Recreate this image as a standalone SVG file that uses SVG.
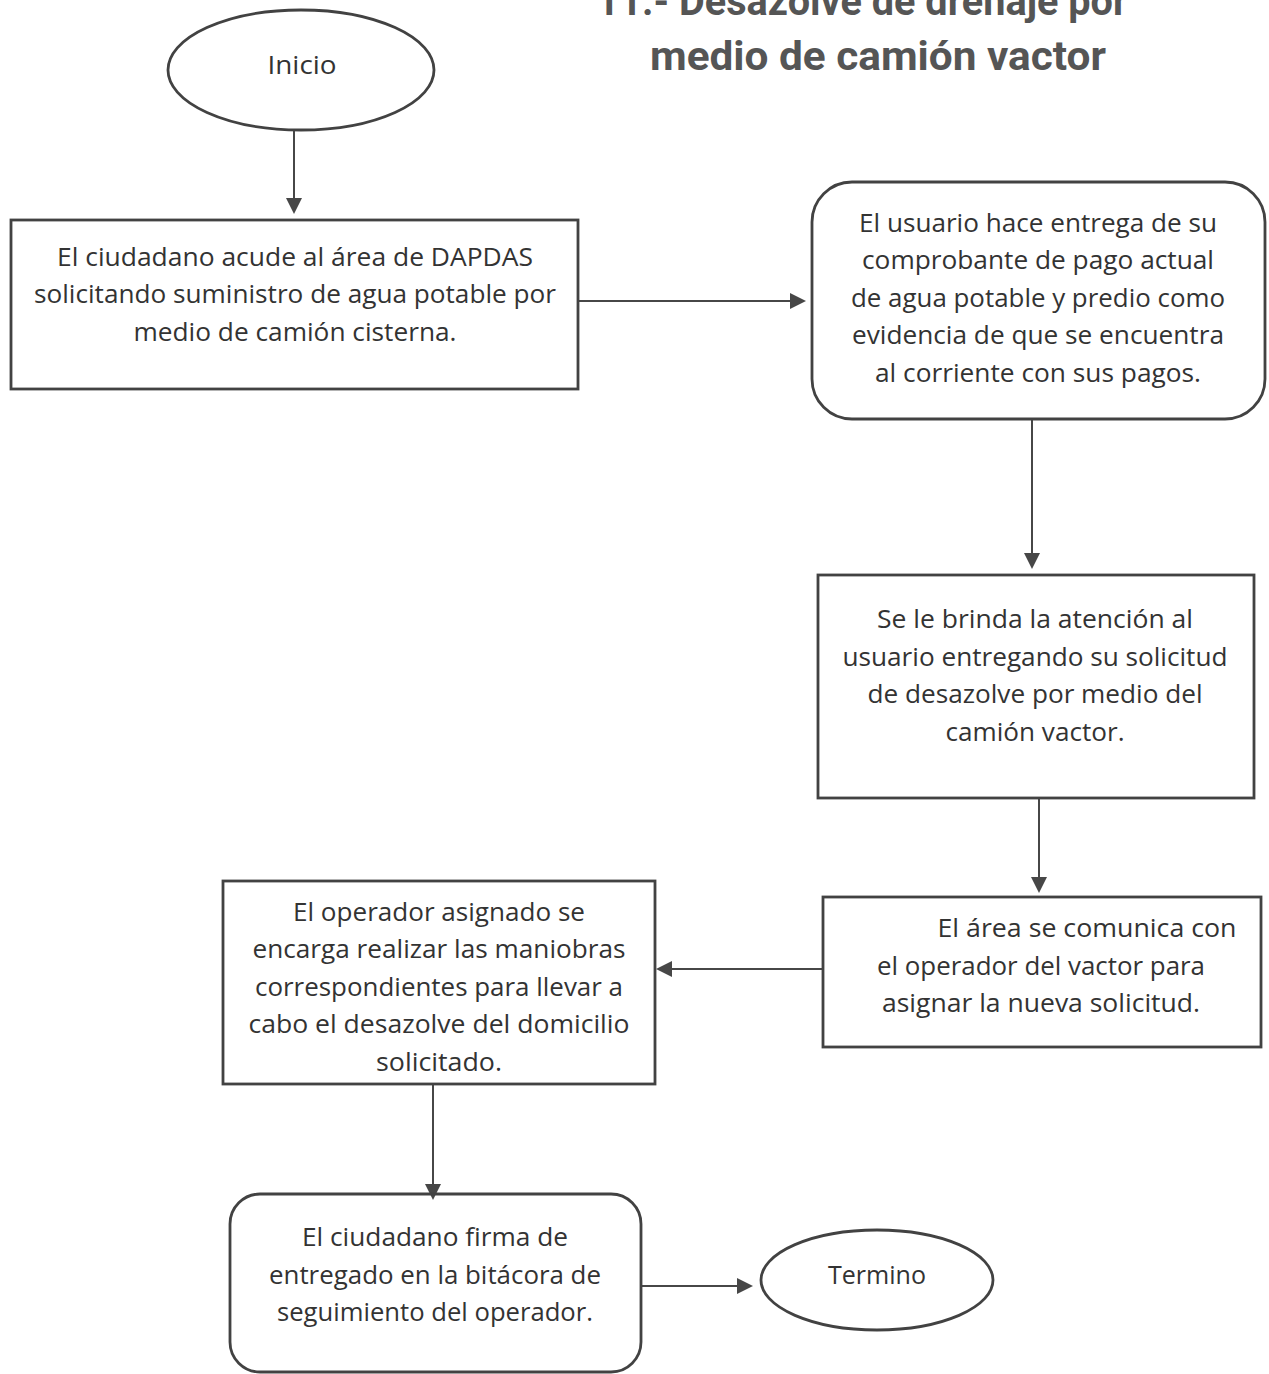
<svg xmlns="http://www.w3.org/2000/svg" width="1269" height="1374" viewBox="0 0 1269 1374">
  <style>
    .shape { fill: none; stroke: #424242; stroke-width: 2.8; }
    .txt { font-family: "Open Sans", Lato, sans-serif; font-size: 25px; fill: #333333; text-anchor: middle; }
    .title { font-family: Roboto, "Liberation Sans", sans-serif; font-weight: bold; font-size: 40px; fill: #555; text-anchor: middle; }
    .link { fill: none; stroke: #474747; stroke-width: 2; }
    .head { fill: #474747; }
  </style>
  <rect width="1269" height="1374" fill="#ffffff"/>

  <g id="title">
    <text class="title" x="862" y="15" textLength="531" lengthAdjust="spacingAndGlyphs">11.- Desazolve de drenaje por</text>
    <text class="title" x="878" y="70" textLength="456" lengthAdjust="spacingAndGlyphs">medio de camión vactor</text>
  </g>

  <!-- connectors: straight lines with filled triangular heads -->
  <g id="connectors">
    <line class="link" x1="294" y1="131" x2="294" y2="200"/>
    <path class="head" d="M286,198 L302,198 L294,214 Z"/>
    <line class="link" x1="578" y1="301" x2="792" y2="301"/>
    <path class="head" d="M790,293 L806,301 L790,309 Z"/>
    <line class="link" x1="1032" y1="420" x2="1032" y2="555"/>
    <path class="head" d="M1024,553 L1040,553 L1032,569 Z"/>
    <line class="link" x1="1039" y1="799" x2="1039" y2="879"/>
    <path class="head" d="M1031,877 L1047,877 L1039,893 Z"/>
    <line class="link" x1="823" y1="969" x2="670" y2="969"/>
    <path class="head" d="M672,961 L656,969 L672,977 Z"/>
    <line class="link" x1="433" y1="1085" x2="433" y2="1186"/>
    <path class="head" d="M425,1184 L441,1184 L433,1200 Z"/>
    <line class="link" x1="641" y1="1286" x2="739" y2="1286"/>
    <path class="head" d="M737,1278 L753,1286 L737,1294 Z"/>
  </g>

  <g id="inicio">
    <ellipse class="shape" cx="301" cy="70" rx="133" ry="60"/>
    <text class="txt" x="302" y="74" textLength="69" lengthAdjust="spacingAndGlyphs">Inicio</text>
  </g>

  <g id="solicitud">
    <rect class="shape" x="11" y="220" width="567" height="169"/>
    <text class="txt" x="295" y="266" textLength="476" lengthAdjust="spacingAndGlyphs">El ciudadano acude al área de DAPDAS</text>
    <text class="txt" x="295" y="303" textLength="522" lengthAdjust="spacingAndGlyphs">solicitando suministro de agua potable por</text>
    <text class="txt" x="295" y="341" textLength="323" lengthAdjust="spacingAndGlyphs">medio de camión cisterna.</text>
  </g>

  <g id="comprobante">
    <rect class="shape" x="812" y="182" width="453" height="237" rx="40" ry="40"/>
    <text class="txt" x="1038" y="232" textLength="358" lengthAdjust="spacingAndGlyphs">El usuario hace entrega de su</text>
    <text class="txt" x="1038" y="269" textLength="352" lengthAdjust="spacingAndGlyphs">comprobante de pago actual</text>
    <text class="txt" x="1038" y="307" textLength="374" lengthAdjust="spacingAndGlyphs">de agua potable y predio como</text>
    <text class="txt" x="1038" y="344" textLength="372" lengthAdjust="spacingAndGlyphs">evidencia de que se encuentra</text>
    <text class="txt" x="1038" y="382" textLength="326" lengthAdjust="spacingAndGlyphs">al corriente con sus pagos.</text>
  </g>

  <g id="atencion">
    <rect class="shape" x="818" y="575" width="436" height="223"/>
    <text class="txt" x="1035" y="628" textLength="316" lengthAdjust="spacingAndGlyphs">Se le brinda la atención al</text>
    <text class="txt" x="1035" y="666" textLength="385" lengthAdjust="spacingAndGlyphs">usuario entregando su solicitud</text>
    <text class="txt" x="1035" y="703" textLength="335" lengthAdjust="spacingAndGlyphs">de desazolve por medio del</text>
    <text class="txt" x="1035" y="741" textLength="179" lengthAdjust="spacingAndGlyphs">camión vactor.</text>
  </g>

  <g id="comunicacion">
    <rect class="shape" x="823" y="897" width="438" height="150"/>
    <text class="txt" x="1087" y="937" textLength="299" lengthAdjust="spacingAndGlyphs">El área se comunica con</text>
    <text class="txt" x="1041" y="975" textLength="328" lengthAdjust="spacingAndGlyphs">el operador del vactor para</text>
    <text class="txt" x="1041" y="1012" textLength="318" lengthAdjust="spacingAndGlyphs">asignar la nueva solicitud.</text>
  </g>

  <g id="maniobras">
    <rect class="shape" x="223" y="881" width="432" height="203"/>
    <text class="txt" x="439" y="921" textLength="292" lengthAdjust="spacingAndGlyphs">El operador asignado se</text>
    <text class="txt" x="439" y="958" textLength="373" lengthAdjust="spacingAndGlyphs">encarga realizar las maniobras</text>
    <text class="txt" x="439" y="996" textLength="368" lengthAdjust="spacingAndGlyphs">correspondientes para llevar a</text>
    <text class="txt" x="439" y="1033" textLength="381" lengthAdjust="spacingAndGlyphs">cabo el desazolve del domicilio</text>
    <text class="txt" x="439" y="1071" textLength="126" lengthAdjust="spacingAndGlyphs">solicitado.</text>
  </g>

  <g id="firma">
    <rect class="shape" x="230" y="1194" width="411" height="178" rx="30" ry="30"/>
    <text class="txt" x="435" y="1246" textLength="266" lengthAdjust="spacingAndGlyphs">El ciudadano firma de</text>
    <text class="txt" x="435" y="1284" textLength="332" lengthAdjust="spacingAndGlyphs">entregado en la bitácora de</text>
    <text class="txt" x="435" y="1321" textLength="316" lengthAdjust="spacingAndGlyphs">seguimiento del operador.</text>
  </g>

  <g id="termino">
    <ellipse class="shape" cx="877" cy="1280" rx="116" ry="50"/>
    <text class="txt" x="877" y="1284" textLength="98" lengthAdjust="spacingAndGlyphs">Termino</text>
  </g>
</svg>
